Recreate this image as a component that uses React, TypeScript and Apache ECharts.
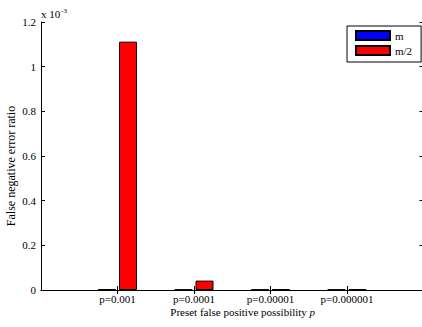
import React, { useEffect, useRef } from "react";
import * as echarts from "echarts";

const categories = ["", "p=0.001", "p=0.0001", "p=0.00001", "p=0.000001", ""];
const seriesNames = ["m", "m/2"];
const mValues = [null, 0.003, 0.002, 0.002, 0.002, null];
const mHalfValues = [null, 1.112, 0.042, 0.003, 0.003, null];
const yTicks = { min: 0, max: 1.2, interval: 0.2 };
const xTitle = "Preset false positive possibility ";
const xTitleVar = "p";
const yTitle = "False negative error ratio";

const FONT = "'Liberation Serif', 'Times New Roman', serif";

export default function App() {
  const ref = useRef<HTMLDivElement>(null);
  useEffect(() => {
    const chart = echarts.init(ref.current!, null, { renderer: "svg" });
    const tickInterval = (i: number) => i > 0 && i < categories.length - 1;
    chart.setOption({
      animation: false,
      backgroundColor: "#fff",
      textStyle: { fontFamily: FONT, color: "#000" },
      grid: { left: 41, top: 22, width: 382.5, height: 268, show: false, outerBoundsMode: "none", containLabel: false },
      legend: {
        orient: "vertical",
        left: 347,
        top: 26,
        padding: [4, 9, 6, 8],
        itemGap: 4,
        itemWidth: 34,
        itemHeight: 9,
        backgroundColor: "#fff",
        borderColor: "#000",
        borderWidth: 1,
        icon: "rect",
        textStyle: { fontFamily: FONT, fontSize: 11, color: "#000", lineHeight: 11 },
        data: seriesNames,
      },
      xAxis: [
        {
          type: "category",
          data: categories,
          boundaryGap: false,
          axisLine: { show: true, lineStyle: { color: "#000", width: 1 } },
          axisTick: { show: true, inside: true, length: 4, interval: (i: number) => tickInterval(i), lineStyle: { color: "#000" } },
          axisLabel: { fontFamily: FONT, fontSize: 11, color: "#000", margin: 3, interval: 0 },
          splitLine: { show: false },
        },
        {
          type: "category",
          data: categories,
          boundaryGap: false,
          position: "top",
          axisLine: { show: true, lineStyle: { color: "#000", width: 1 } },
          axisTick: { show: true, inside: true, length: 4, interval: (i: number) => tickInterval(i), lineStyle: { color: "#000" } },
          axisLabel: { show: false },
          splitLine: { show: false },
        },
      ],
      yAxis: [
        {
          type: "value",
          min: yTicks.min,
          max: yTicks.max,
          interval: yTicks.interval,
          axisLine: { show: true, lineStyle: { color: "#000", width: 1 } },
          axisTick: { show: true, inside: true, length: 4, lineStyle: { color: "#000" } },
          axisLabel: { fontFamily: FONT, fontSize: 11, color: "#000", margin: 5 },
          splitLine: { show: false },
        },
        {
          type: "value",
          position: "right",
          min: yTicks.min,
          max: yTicks.max,
          interval: yTicks.interval,
          axisLine: { show: true, lineStyle: { color: "#000", width: 1 } },
          axisTick: { show: true, inside: true, length: 4, lineStyle: { color: "#000" } },
          axisLabel: { show: false },
          splitLine: { show: false },
        },
      ],
      graphic: [
        {
          type: "text",
          x: 41,
          y: 7,
          style: {
            text: "x 10{s|-3}",
            font: `11px ${FONT}`,
            fill: "#000",
            rich: { s: { fontFamily: FONT, fontSize: 7, verticalAlign: "top", padding: [0, 0, 6, 1], fill: "#000" } },
          },
        },
        {
          type: "text",
          x: 242.7,
          y: 311.7,
          style: {
            text: `${xTitle}{i|${xTitleVar}}`,
            font: `11px ${FONT}`,
            fill: "#000",
            align: "center",
            verticalAlign: "middle",
            rich: { i: { fontFamily: FONT, fontSize: 11, fontStyle: "italic", fill: "#000" } },
          },
        },
        {
          type: "text",
          x: 10.5,
          y: 166,
          rotation: Math.PI / 2,
          style: {
            text: yTitle,
            font: `12px ${FONT}`,
            fill: "#000",
            align: "center",
            verticalAlign: "middle",
          },
        },
      ],
      series: [
        {
          name: seriesNames[0],
          type: "bar",
          data: mValues,
          barWidth: 18,
          barGap: "17%",
          itemStyle: { color: "#0000ff", borderColor: "#000", borderWidth: 1 },
        },
        {
          name: seriesNames[1],
          type: "bar",
          data: mHalfValues,
          barWidth: 18,
          barGap: "17%",
          itemStyle: { color: "#ff0000", borderColor: "#000", borderWidth: 1 },
        },
      ],
    });
    return () => chart.dispose();
  }, []);
  return <div ref={ref} style={{ width: 422, height: 327, position: "absolute", left: 0, top: 0 }} />;
}
